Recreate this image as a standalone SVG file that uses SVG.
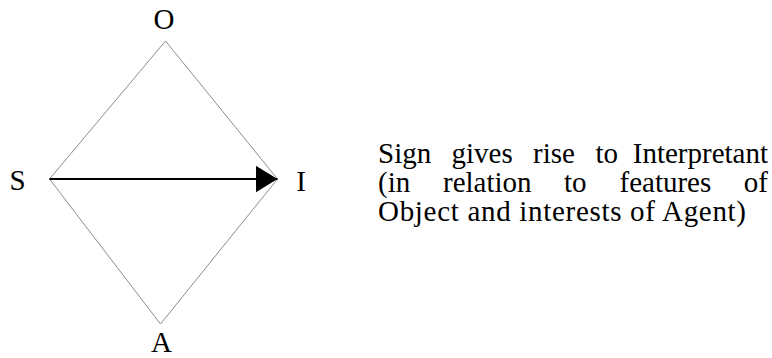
<svg xmlns="http://www.w3.org/2000/svg" width="772" height="358" viewBox="0 0 772 358">
<style>
.lbl{font-family:"Liberation Serif","Times New Roman",serif;font-size:29px;fill:#000;text-anchor:middle}
.txt{font-family:"Liberation Serif","Times New Roman",serif;font-size:29px;fill:#000}
.edge{stroke:#8c8c8c;stroke-width:1;fill:none}
</style>
<defs>
<marker id="ah" markerWidth="22" markerHeight="27" refX="22" refY="13.5" orient="auto" markerUnits="userSpaceOnUse">
<path d="M0,0 L22,13.5 L0,27 Z" fill="#000"/>
</marker>
</defs>
<rect width="772" height="358" fill="#fff"/>
<g id="connectors">
<path class="edge" d="M165.5,41 L49.5,179"/>
<path class="edge" d="M165.5,41 L277.5,179"/>
<path class="edge" d="M49.5,179 L160.5,324"/>
<path class="edge" d="M277.5,179 L160.5,324"/>
<path d="M49.5,179 L277.5,179" stroke="#000" stroke-width="2" fill="none" marker-end="url(#ah)"/>
</g>
<g id="node-O"><text class="lbl" x="164" y="29">O</text></g>
<g id="node-S"><text class="lbl" x="17.5" y="190">S</text></g>
<g id="node-I"><text class="lbl" x="301" y="191">I</text></g>
<g id="node-A"><text class="lbl" x="161.5" y="352">A</text></g>
<g id="caption">
<text class="txt" y="163"><tspan x="378">Sign</tspan><tspan x="451.5">gives</tspan><tspan x="533">rise</tspan><tspan x="595.5">to</tspan></text>
<text class="txt" x="768" y="163" text-anchor="end">Interpretant</text>
<text class="txt" y="192"><tspan x="378">(in</tspan><tspan x="443">relation</tspan><tspan x="564">to</tspan><tspan x="619.5">features</tspan></text>
<text class="txt" x="768" y="192" text-anchor="end">of</text>
<text class="txt" x="378" y="221" textLength="368" lengthAdjust="spacing">Object and interests of Agent)</text>
</g>
</svg>
